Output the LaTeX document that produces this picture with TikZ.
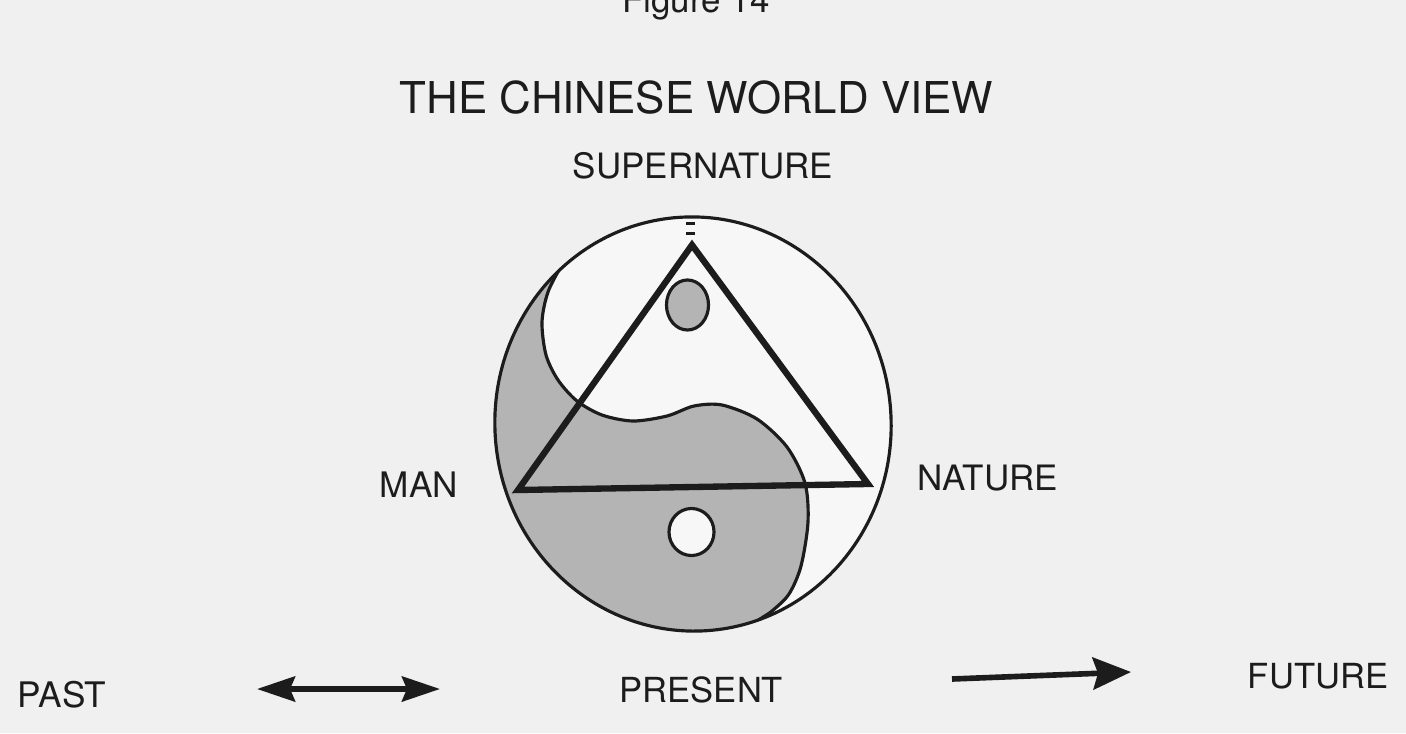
\documentclass[tikz,border=0pt]{standalone}
\usepackage{fontspec}
\setmainfont{TeX Gyre Heros}
\usetikzlibrary{arrows.meta}
\definecolor{paper}{RGB}{240,240,240}
\definecolor{inside}{RGB}{247,247,247}
\definecolor{yygray}{RGB}{180,180,180}
\definecolor{ink}{RGB}{28,28,28}
\tikzset{
  lbl/.style={inner sep=0pt, anchor=base, text=ink},
  outline/.style={draw=ink, line width=0.9pt},
  tri/.style={draw=ink, line width=1.8pt, line join=miter},
  timearrow/.style={draw=ink, line width=1.6pt}
}
\def\outerpath{(693,424) ellipse [x radius=1.98cm, y radius=2.07cm, rotate=4]}
\def\scurve{plot[smooth] coordinates {(582,222) (563,262) (548,292) (542,322) (546,355) (558,380) (577,401) (602,415) (633,421) (667,416) (694,406) (722,405) (757,419) (787,447) (805,483) (808,522) (801,566) (789,594) (772,611) (752,626) (732,660)}}
\begin{document}
\begin{tikzpicture}[x=0.01cm, y=-0.01cm]
  \fill[paper] (0,0) rectangle (1406,733);
  \useasboundingbox (0,0) rectangle (1406,733);

  % yin-yang disc
  \fill[inside] \outerpath;
  \begin{scope}
    \clip \outerpath;
    \fill[yygray] \scurve -- (400,700) -- (400,222) -- cycle;
    \draw[outline] \scurve;
  \end{scope}
  \draw[outline] \outerpath;

  % small circles
  \draw[outline, fill=yygray] (687.5,305) ellipse [x radius=0.21cm, y radius=0.25cm];
  \draw[outline, fill=inside] (691.5,532) ellipse [x radius=0.225cm, y radius=0.235cm];

  % triangle
  \coordinate (sup) at (692,245);
  \coordinate (man) at (518,490);
  \coordinate (nat) at (868,484);
  \draw[tri] (sup) -- (man) -- (nat) -- cycle;

  % marks above apex
  \draw[ink, line width=0.9pt] (686,223.5) -- (695,223.5);
  \draw[ink, line width=0.9pt] (686,233.5) -- (695,233.5);

  % texts
  \node[lbl] (fig)   at (696,12)   {\resizebox{1.47cm}{!}{Figure 14}};
  \node[lbl] (title) at (696.5,113) {\resizebox{5.93cm}{!}{THE CHINESE WORLD VIEW}};
  \node[lbl] (supn)  at (703,178)  {\resizebox{2.60cm}{!}{SUPERNATURE}};
  \node[lbl] (mann)  at (419,497)  {\resizebox{0.78cm}{!}{MAN}};
  \node[lbl] (natn)  at (988,490)  {\resizebox{1.40cm}{!}{NATURE}};
  \node[lbl] (past)  at (62,707)   {\resizebox{0.88cm}{!}{PAST}};
  \node[lbl] (pres)  at (701.5,702) {\resizebox{1.63cm}{!}{PRESENT}};
  \node[lbl] (fut)   at (1318,688) {\resizebox{1.40cm}{!}{FUTURE}};

  % arrows
  \coordinate (pa1) at (257,689);
  \coordinate (pa2) at (440,689);
  \coordinate (fa1) at (952,679);
  \coordinate (fa2) at (1131,672);
  \draw[timearrow, {Stealth[length=0.38cm,width=0.25cm,inset=0.05cm]}-{Stealth[length=0.38cm,width=0.25cm,inset=0.05cm]}] (pa1) -- (pa2);
  \draw[timearrow, -{Stealth[length=0.38cm,width=0.32cm,inset=0.05cm]}] (fa1) -- (fa2);
\end{tikzpicture}
\end{document}
